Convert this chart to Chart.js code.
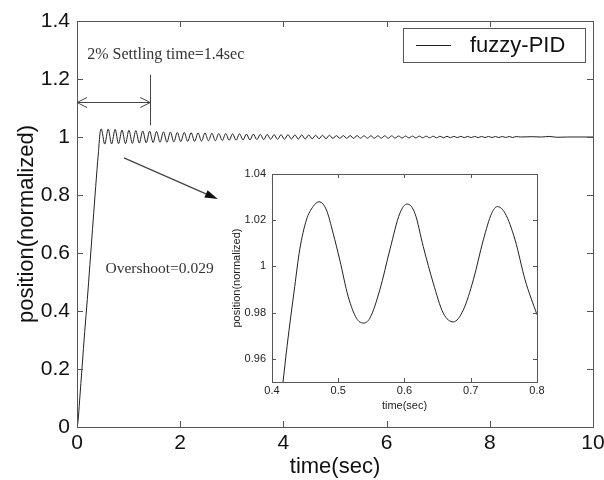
<!DOCTYPE html>
<html><head><meta charset="utf-8">
<script src="https://cdn.jsdelivr.net/npm/chart.js@4.4.0/dist/chart.umd.min.js"></script>
<style>
html,body{margin:0;padding:0;background:#fff;}
#wrap{position:relative;width:604px;height:480px;background:#fff;}
#main{position:absolute;left:0;top:0;}
#inset{position:absolute;left:225px;top:163px;}
</style></head><body>
<div id="wrap"><canvas id="main" width="604" height="480"></canvas><canvas id="inset" width="320" height="252"></canvas></div>
<script>
// ---------- data ----------
const seriesName = 'fuzzy-PID';
// rise (time s, position)
const riseT = [0, 0.02, 0.05, 0.1, 0.15, 0.2, 0.25, 0.3, 0.35, 0.4, 0.417, 0.423, 0.434, 0.442, 0.452, 0.462];
const riseY = [0, 0.02, 0.09, 0.21, 0.33, 0.44, 0.56, 0.68, 0.80, 0.915, 0.95, 0.965, 0.991, 1.007, 1.020, 1.026];
// oscillation extrema (peaks / troughs)
const oscT = [0.470,0.537,0.604,0.671,0.738,0.805,0.872,0.939,1.006,1.073,
  1.140,1.207,1.274,1.341,1.408,1.475,1.542,1.609,1.676,1.743,
  1.810,1.877,1.944,2.011,2.078,2.145,2.212,2.279,2.346,2.413,
  2.480,2.547,2.614,2.681,2.748,2.815,2.882,2.949,3.016,3.083,
  3.150,3.217,3.284,3.351,3.418,3.485,3.552,3.619,3.686,3.753,
  3.820,3.887,3.954,4.021,4.088,4.155,4.222,4.289,4.356,4.423,
  4.490,4.557,4.624,4.691,4.758,4.825,4.892,4.959,5.026,5.093,
  5.160,5.227,5.294,5.361,5.428,5.495,5.562,5.629,5.696,5.763,
  5.830,5.897,5.964,6.031,6.098,6.165,6.232,6.299,6.366,6.433,
  6.500,6.567,6.634,6.701,6.768,6.835,6.902,6.969,7.036,7.103,
  7.170,7.237,7.304,7.371,7.438,7.505,7.572,7.639,7.706,7.773,
  7.840,7.907,7.974,8.041,8.108,8.175,8.242,8.309,8.376,8.443,8.510];
const oscY = [1.028,0.9755,1.027,0.976,1.026,0.977,1.024,0.977,1.023,0.978,
  1.022,0.979,1.021,0.980,1.020,0.981,1.019,0.982,1.018,0.982,
  1.017,0.983,1.016,0.984,1.016,0.985,1.015,0.985,1.014,0.986,
  1.014,0.987,1.013,0.987,1.012,0.988,1.012,0.989,1.011,0.989,
  1.011,0.990,1.010,0.990,1.010,0.991,1.009,0.991,1.009,0.992,
  1.008,0.992,1.008,0.992,1.008,0.993,1.007,0.993,1.007,0.993,
  1.007,0.994,1.006,0.994,1.006,0.994,1.006,0.995,1.005,0.995,
  1.005,0.995,1.005,0.995,1.005,0.996,1.004,0.996,1.004,0.996,
  1.004,0.996,1.004,0.996,1.004,0.9965,1.0035,0.9966,1.0033,0.9968,
  1.0031,0.9969,1.003,0.9971,1.0028,0.9972,1.0027,0.9974,1.0026,0.9975,
  1.0025,0.9976,1.0023,0.9977,1.0022,0.9978,1.0021,0.9979,1.002,0.998,
  1.0019,0.9981,1.0018,0.9982,1.0017,0.9983,1.0017,0.9984,1.0016,0.9984,1.0015];
const tailT = [8.6, 8.8, 9.0, 9.15, 9.3, 9.5, 10.0];
const tailY = [1.0, 1.001, 1.0, 1.002, 0.999, 1.0, 1.0];
const xTicksMain = [0, 2, 4, 6, 8, 10];
const yTicksMain = [0, 0.2, 0.4, 0.6, 0.8, 1, 1.2, 1.4];
// zoomed inset
const insetT = [0.41, 0.4166, 0.4227, 0.4343, 0.4418, 0.4519, 0.462, 0.4711, 0.4822, 0.4922, 0.5023, 0.515, 0.5275, 0.5376, 0.5477, 0.5628, 0.5779, 0.593, 0.6041, 0.6157, 0.6283, 0.6434, 0.6585, 0.6737, 0.6888, 0.7039, 0.719, 0.7316, 0.7402, 0.7518, 0.7669, 0.782, 0.8];
const insetY = [0.935, 0.95, 0.9654, 0.9913, 1.0072, 1.0201, 1.0259, 1.028, 1.0244, 1.0144, 1.0028, 0.987, 0.9776, 0.9755, 0.9776, 0.9899, 1.0072, 1.023, 1.027, 1.023, 1.0086, 0.9928, 0.9798, 0.976, 0.9812, 0.9942, 1.0115, 1.023, 1.0259, 1.023, 1.0115, 0.9942, 0.9791];
const xTicksInset = [0.4, 0.5, 0.6, 0.7, 0.8];
const yTicksInset = [0.96, 0.98, 1, 1.02, 1.04];
// annotation texts
const settlingText = '2% Settling time=1.4sec';
const overshootText = 'Overshoot=0.029';

// ---------- presentation ----------
const SANS = '"Liberation Sans", Arial, sans-serif';
const SERIF = '"Liberation Serif", "Times New Roman", serif';
const AXIS = '#555';
const INK = '#111';

function toPts(ts, ys){ return ts.map((t,i)=>({x:t, y:ys[i]})); }
const mainPts = [].concat(toPts(riseT,riseY), toPts(oscT,oscY), toPts(tailT,tailY));
const fmt = v => String(+v.toFixed(2));

function frameTicks(len, lw){
  return {id:'frameTicks', afterDraw(chart){
    const ctx=chart.ctx, a=chart.chartArea, xs=chart.scales.x, ys=chart.scales.y;
    ctx.save(); ctx.strokeStyle=AXIS; ctx.lineWidth=lw; ctx.beginPath();
    xs.ticks.forEach(t=>{const p=Math.round(xs.getPixelForValue(t.value))+0.5;
      ctx.moveTo(p,a.bottom); ctx.lineTo(p,a.bottom-len); ctx.moveTo(p,a.top); ctx.lineTo(p,a.top+len);});
    ys.ticks.forEach(t=>{const p=Math.round(ys.getPixelForValue(t.value))+0.5;
      ctx.moveTo(a.left,p); ctx.lineTo(a.left+len,p); ctx.moveTo(a.right,p); ctx.lineTo(a.right-len,p);});
    ctx.stroke();
    ctx.strokeRect(Math.round(a.left)+0.5, Math.round(a.top)+0.5, Math.round(a.right-a.left), Math.round(a.bottom-a.top));
    ctx.restore();
  }};
}

const annotations = {
  settling: {x0:0, x1:1.42, y:1.12, vx:1.42, vy0:1.215, vy1:1.04, tx:1.72, ty:1.285},
  overshoot: {x0:0.91, y0:0.928, x1:2.73, y1:0.786, tx:1.6, ty:0.545}
};

const annotPlugin = {id:'annot', afterDraw(chart){
  const ctx=chart.ctx, xs=chart.scales.x, ys=chart.scales.y, a=chart.chartArea;
  const X=v=>xs.getPixelForValue(v), Y=v=>ys.getPixelForValue(v);
  ctx.save();
  ctx.strokeStyle='#444'; ctx.fillStyle='#444'; ctx.lineWidth=1;
  const s=annotations.settling;
  const hy=Math.round(Y(s.y))+0.5, hx0=X(s.x0), hx1=X(s.x1);
  ctx.beginPath(); ctx.moveTo(hx0,hy); ctx.lineTo(hx1,hy);
  ctx.moveTo(hx0+10,hy-5); ctx.lineTo(hx0,hy); ctx.lineTo(hx0+10,hy+5);
  ctx.moveTo(hx1-10,hy-5); ctx.lineTo(hx1,hy); ctx.lineTo(hx1-10,hy+5);
  const vx=Math.round(X(s.vx))+0.5;
  ctx.moveTo(vx,Y(s.vy0)); ctx.lineTo(vx,Y(s.vy1));
  ctx.stroke();
  ctx.font='16px '+SERIF; ctx.textAlign='center'; ctx.textBaseline='middle';
  ctx.fillStyle='#333';
  ctx.fillText(settlingText, X(s.tx), Y(s.ty));
  const o=annotations.overshoot;
  const ax0=X(o.x0), ay0=Y(o.y0), ax1=X(o.x1), ay1=Y(o.y1);
  const ang=Math.atan2(ay1-ay0, ax1-ax0);
  const hl=13, hw=4;
  const bx=ax1-hl*Math.cos(ang), by=ay1-hl*Math.sin(ang);
  ctx.strokeStyle='#444'; ctx.lineWidth=1.2;
  ctx.beginPath(); ctx.moveTo(ax0,ay0); ctx.lineTo(bx,by); ctx.stroke();
  ctx.fillStyle='#111';
  ctx.beginPath(); ctx.moveTo(ax1,ay1);
  ctx.lineTo(bx+hw*Math.sin(ang), by-hw*Math.cos(ang));
  ctx.lineTo(bx-hw*Math.sin(ang), by+hw*Math.cos(ang));
  ctx.closePath(); ctx.fill();
  ctx.fillStyle='#333'; ctx.font='15.5px '+SERIF;
  ctx.fillText(overshootText, X(o.tx), Y(o.ty));
  // legend box
  const lx=a.right-190, ly=a.top+7, lw=182, lh=34;
  ctx.fillStyle='#fff'; ctx.fillRect(lx,ly,lw,lh);
  ctx.strokeStyle='#555'; ctx.lineWidth=1;
  ctx.strokeRect(Math.round(lx)+0.5, Math.round(ly)+0.5, lw, lh);
  const ds=chart.data.datasets[0];
  ctx.strokeStyle=ds.borderColor; ctx.lineWidth=1;
  ctx.beginPath(); ctx.moveTo(lx+13, ly+lh/2+0.5); ctx.lineTo(lx+48, ly+lh/2+0.5); ctx.stroke();
  ctx.fillStyle=INK; ctx.font='22px '+SANS; ctx.textAlign='left'; ctx.textBaseline='middle';
  ctx.fillText(ds.label, lx+67, ly+lh/2+1);
  ctx.restore();
}};

new Chart(document.getElementById('main'), {
  type:'line',
  data:{datasets:[{label:seriesName, data:mainPts, borderColor:'#222', borderWidth:1, pointRadius:0, cubicInterpolationMode:'monotone', fill:false}]},
  options:{
    responsive:false, animation:false, devicePixelRatio:1,
    layout:{padding:{left:0, top:21, right:11, bottom:0}},
    plugins:{legend:{display:false}, tooltip:{enabled:false}},
    scales:{
      x:{type:'linear', min:0, max:10,
        afterBuildTicks:s=>{s.ticks=xTicksMain.map(v=>({value:v}));},
        afterFit:s=>{s.height=53; s.paddingLeft=0; s.paddingRight=0;},
        grid:{display:false, drawTicks:false, tickLength:0}, border:{display:false},
        ticks:{padding:4, color:INK, font:{family:SANS, size:21}, callback:fmt, maxRotation:0, autoSkip:false},
        title:{display:true, text:'time(sec)', color:INK, font:{family:SANS, size:22}, padding:{top:0,bottom:0}}},
      y:{type:'linear', min:0, max:1.4,
        afterBuildTicks:s=>{s.ticks=yTicksMain.map(v=>({value:v}));},
        afterFit:s=>{s.width=77; s.paddingTop=0; s.paddingBottom=0;},
        grid:{display:false, drawTicks:false, tickLength:0}, border:{display:false},
        ticks:{padding:7, color:INK, font:{family:SANS, size:21}, callback:fmt, autoSkip:false},
        title:{display:true, text:'position(normalized)', color:INK, font:{family:SANS, size:22}, padding:{top:14,bottom:0}}}
    }
  },
  plugins:[frameTicks(6,1), annotPlugin]
});

const whiteBg = {id:'whiteBg', beforeDraw(chart){const c=chart.ctx; c.save(); c.fillStyle='#fff'; c.fillRect(0,0,chart.width,chart.height); c.restore();}};

new Chart(document.getElementById('inset'), {
  type:'line',
  data:{datasets:[{label:seriesName, data:toPts(insetT,insetY), borderColor:'#222', borderWidth:1, pointRadius:0, cubicInterpolationMode:'monotone', fill:false}]},
  options:{
    responsive:false, animation:false, devicePixelRatio:1,
    layout:{padding:{left:0, top:11, right:8, bottom:0}},
    plugins:{legend:{display:false}, tooltip:{enabled:false}},
    scales:{
      x:{type:'linear', min:0.4, max:0.8,
        afterBuildTicks:s=>{s.ticks=xTicksInset.map(v=>({value:v}));},
        afterFit:s=>{s.height=33; s.paddingLeft=0; s.paddingRight=0;},
        grid:{display:false, drawTicks:false, tickLength:0}, border:{display:false},
        ticks:{padding:2, color:'#222', font:{family:SANS, size:11}, callback:fmt, maxRotation:0, autoSkip:false},
        title:{display:true, text:'time(sec)', color:'#222', font:{family:SANS, size:11}, padding:{top:0,bottom:2}}},
      y:{type:'linear', min:0.95, max:1.04,
        afterBuildTicks:s=>{s.ticks=yTicksInset.map(v=>({value:v}));},
        afterFit:s=>{s.width=47; s.paddingTop=0; s.paddingBottom=0;},
        grid:{display:false, drawTicks:false, tickLength:0}, border:{display:false},
        ticks:{padding:6, color:'#222', font:{family:SANS, size:11}, callback:fmt, autoSkip:false},
        title:{display:true, text:'position(normalized)', color:'#222', font:{family:SANS, size:11}, padding:{top:5,bottom:0}}}
    }
  },
  plugins:[whiteBg, frameTicks(4,1)]
});
</script>
</body></html>
